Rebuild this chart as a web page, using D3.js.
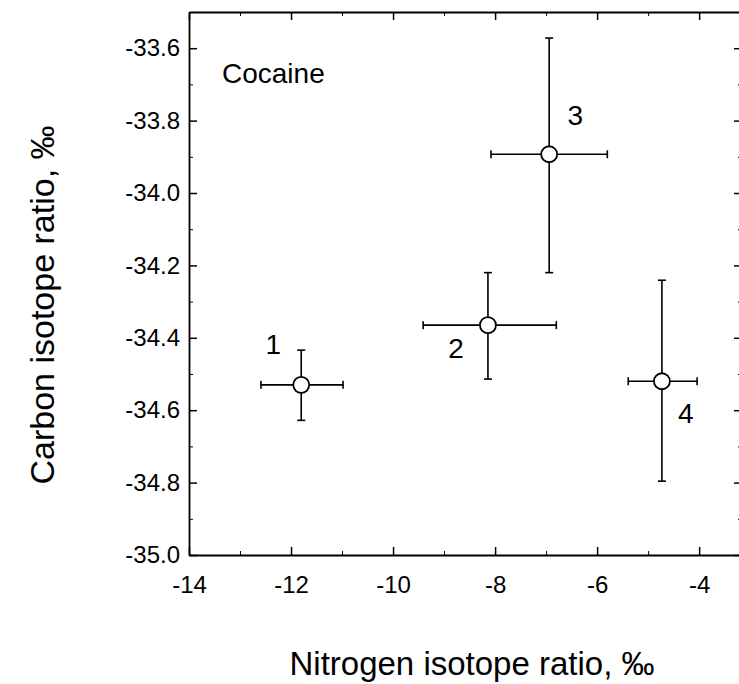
<!DOCTYPE html>
<html>
<head>
<meta charset="utf-8">
<script src="https://cdn.jsdelivr.net/npm/d3@7"></script>
<style>
  body { margin: 0; background: #fff; }
  svg { display: block; font-family: "Liberation Sans", Arial, sans-serif; }
  .axis path, .axis line { stroke: #000; }
  .axis text { fill: #000; }
</style>
</head>
<body>
<svg id="chart" width="739" height="684"></svg>
<script>
// sample numbers and their isotope ratios
var sampleIds = ["1", "2", "3", "4"];
var nitrogen   = [-11.80, -8.14, -6.94, -4.73];
var nitrogenLo = [-12.59, -9.41, -8.08, -5.39];
var nitrogenHi = [-10.98, -6.80, -5.80, -4.04];
var carbon     = [-34.53, -34.365, -33.893, -34.52];
var carbonLo   = [-34.628, -34.514, -34.22, -34.796];
var carbonHi   = [-34.434, -34.22, -33.572, -34.241];

var xTicks = [-14, -12, -10, -8, -6, -4];
var xMinorTicks = [-13, -11, -9, -7, -5];
var yTicks = [-35.0, -34.8, -34.6, -34.4, -34.2, -34.0, -33.8, -33.6];
var yMinorTicks = [-34.9, -34.7, -34.5, -34.3, -34.1, -33.9, -33.7, -33.5];

// where the number label sits relative to its point (px)
var labelOffsets = [[-28, -31], [-32, 33], [26, -29], [24, 42]];

var data = sampleIds.map(function(id, i) {
  return {id: id, x: nitrogen[i], xLo: nitrogenLo[i], xHi: nitrogenHi[i],
          y: carbon[i], yLo: carbonLo[i], yHi: carbonHi[i],
          dx: labelOffsets[i][0], dy: labelOffsets[i][1]};
});

var svg = d3.select("#chart");
var plotL = 189, plotR = 742, plotT = 12, plotB = 555;

var x = d3.scaleLinear().domain([-14, -3.16]).range([plotL, plotR]);
var y = d3.scaleLinear().domain([-35.0, -33.5]).range([plotB, plotT]);

function fmtY(d) { return d.toFixed(1); }
function fmtX(d) { return String(d); }

// bottom axis
var gx = svg.append("g").attr("class", "axis").attr("transform", "translate(0," + plotB + ")")
  .call(d3.axisBottom(x).tickValues(xTicks).tickFormat(fmtX).tickSizeInner(-8).tickSizeOuter(0).tickPadding(21));
gx.select(".domain").attr("stroke-width", 2.2);
gx.selectAll("line").attr("stroke-width", 1.5);
gx.selectAll("text").attr("font-size", 24).attr("font-family", "Liberation Sans, Arial, sans-serif");
svg.append("g").attr("class", "axis").attr("transform", "translate(0," + plotB + ")")
  .call(d3.axisBottom(x).tickValues(xMinorTicks).tickFormat("").tickSizeInner(-4).tickSizeOuter(0))
  .select(".domain").remove();

// top axis
var gt = svg.append("g").attr("class", "axis").attr("transform", "translate(0," + plotT + ")")
  .call(d3.axisTop(x).tickValues(xTicks).tickFormat("").tickSizeInner(-8).tickSizeOuter(0));
gt.select(".domain").attr("stroke-width", 2);
gt.selectAll("line").attr("stroke-width", 1.5);
svg.append("g").attr("class", "axis").attr("transform", "translate(0," + plotT + ")")
  .call(d3.axisTop(x).tickValues(xMinorTicks).tickFormat("").tickSizeInner(-4).tickSizeOuter(0))
  .select(".domain").remove();

// left axis
var gy = svg.append("g").attr("class", "axis").attr("transform", "translate(" + plotL + ",0)")
  .call(d3.axisLeft(y).tickValues(yTicks).tickFormat(fmtY).tickSizeInner(-8).tickSizeOuter(0).tickPadding(9));
gy.select(".domain").attr("stroke-width", 1.8);
gy.selectAll("line").attr("stroke-width", 1.5);
gy.selectAll("text").attr("font-size", 24).attr("font-family", "Liberation Sans, Arial, sans-serif");
svg.append("g").attr("class", "axis").attr("transform", "translate(" + plotL + ",0)")
  .call(d3.axisLeft(y).tickValues(yMinorTicks).tickFormat("").tickSizeInner(-4).tickSizeOuter(0))
  .select(".domain").remove();

// right axis (line falls just outside the picture, ticks show)
var gr = svg.append("g").attr("class", "axis").attr("transform", "translate(" + plotR + ",0)")
  .call(d3.axisRight(y).tickValues(yTicks).tickFormat("").tickSizeInner(-8).tickSizeOuter(0));
gr.selectAll("line").attr("stroke-width", 1.5);
svg.append("g").attr("class", "axis").attr("transform", "translate(" + plotR + ",0)")
  .call(d3.axisRight(y).tickValues(yMinorTicks).tickFormat("").tickSizeInner(-4).tickSizeOuter(0))
  .select(".domain").remove();

// error bars
var cap = 4;
var bars = svg.append("g").attr("stroke", "#000").attr("stroke-width", 1.6).attr("fill", "none");
data.forEach(function(d) {
  bars.append("line").attr("x1", x(d.xLo)).attr("x2", x(d.xHi)).attr("y1", y(d.y)).attr("y2", y(d.y));
  bars.append("line").attr("x1", x(d.xLo)).attr("x2", x(d.xLo)).attr("y1", y(d.y) - cap).attr("y2", y(d.y) + cap);
  bars.append("line").attr("x1", x(d.xHi)).attr("x2", x(d.xHi)).attr("y1", y(d.y) - cap).attr("y2", y(d.y) + cap);
  bars.append("line").attr("x1", x(d.x)).attr("x2", x(d.x)).attr("y1", y(d.yLo)).attr("y2", y(d.yHi));
  bars.append("line").attr("x1", x(d.x) - cap).attr("x2", x(d.x) + cap).attr("y1", y(d.yLo)).attr("y2", y(d.yLo));
  bars.append("line").attr("x1", x(d.x) - cap).attr("x2", x(d.x) + cap).attr("y1", y(d.yHi)).attr("y2", y(d.yHi));
});

svg.append("g").selectAll("circle").data(data).enter().append("circle")
  .attr("cx", function(d) { return x(d.x); })
  .attr("cy", function(d) { return y(d.y); })
  .attr("r", 8)
  .attr("fill", "#fff")
  .attr("stroke", "#000")
  .attr("stroke-width", 1.8);

svg.append("g").selectAll("text").data(data).enter().append("text")
  .attr("x", function(d) { return x(d.x) + d.dx; })
  .attr("y", function(d) { return y(d.y) + d.dy; })
  .attr("text-anchor", "middle")
  .attr("font-size", 28)
  .text(function(d) { return d.id; });

svg.append("text").attr("x", 222).attr("y", 83).attr("font-size", 28).text("Cocaine");

// axis titles
svg.append("text").attr("x", 472).attr("y", 675).attr("text-anchor", "middle")
  .attr("font-size", 33).text("Nitrogen isotope ratio, ‰");
svg.append("text").attr("transform", "translate(54,305) rotate(-90)").attr("text-anchor", "middle")
  .attr("font-size", 34).text("Carbon isotope ratio, ‰");
</script>
</body>
</html>
